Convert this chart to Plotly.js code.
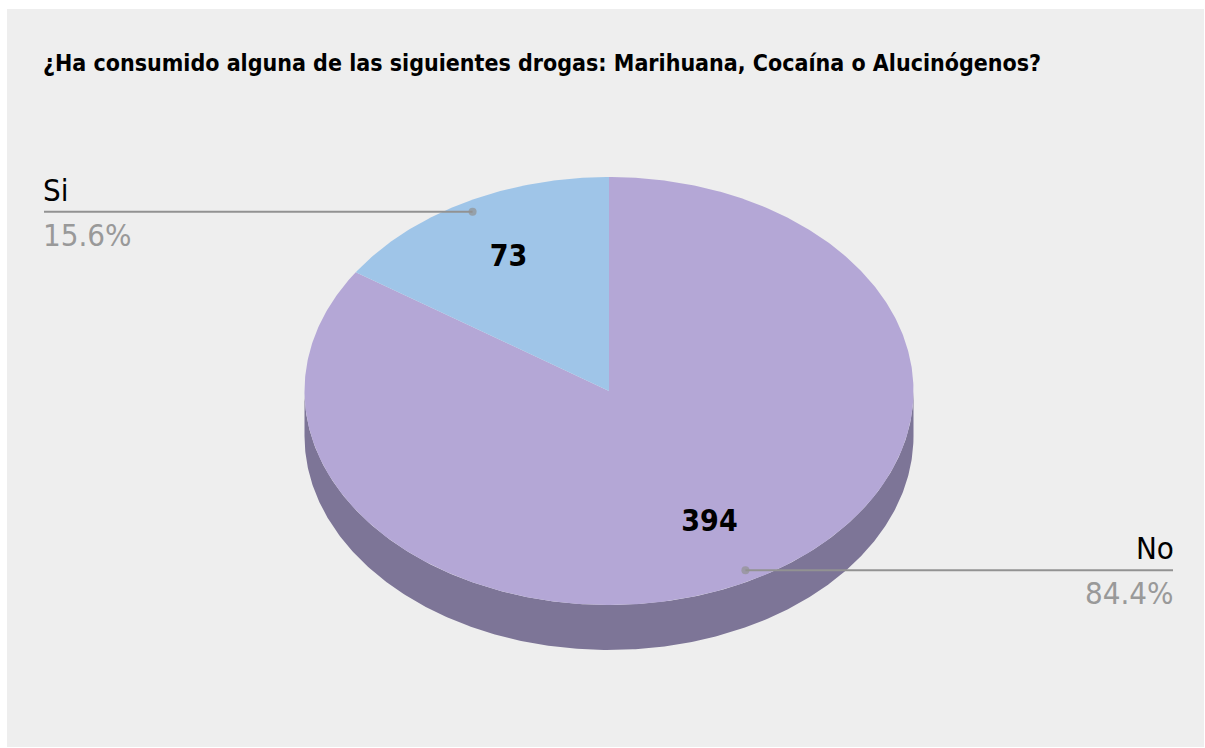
<!DOCTYPE html>
<html><head><meta charset="utf-8">
<script src="https://cdn.plot.ly/plotly-3.0.1.min.js"></script>
<style>html,body{margin:0;padding:0;background:#fff}#chart{width:1205px;height:748px}</style>
</head><body><div id="chart"></div><script>
// ---- data ----
const labels = ["No", "Si"];
const values = [394, 73];
const topColors = ["#b4a7d6", "#9fc5e8"];
const sideColors = ["#7d7597", "#6f8aa2"];
const titleText = "¿Ha consumido alguna de las siguientes drogas: Marihuana, Cocaína o Alucinógenos?";

// ---- geometry (layout constants, in pixel-like axis units) ----
const W = 1205, H = 748;
const cx = 609, cy = 391, rx = 304.5, ry = 214, depth = 45;
const leftX = 44, rightX = 1173;
const FONT = '"DejaVu Sans Condensed", "Liberation Sans Narrow", "Arial Narrow", sans-serif';

function pt(deg, f, dy) {
  const r = deg * Math.PI / 180;
  return [cx + rx * f * Math.sin(r), cy - ry * f * Math.cos(r) + (dy || 0)];
}
function arc(a0, a1, f, dy) {
  const pts = [];
  const n = Math.max(2, Math.ceil(Math.abs(a1 - a0) / 0.5));
  for (let i = 0; i <= n; i++) pts.push(pt(a0 + (a1 - a0) * i / n, f, dy));
  return pts;
}

const total = values.reduce((a, b) => a + b, 0);
let start = 0;
const slices = [];
values.forEach((v, i) => {
  const sweep = v / total * 360;
  slices.push({ i: i, a0: start, a1: start + sweep, mid: start + sweep / 2 });
  start += sweep;
});

const traces = [];
function poly(p, color) {
  return { type: 'scatter', x: p.map(q => q[0]), y: p.map(q => q[1]), mode: 'lines',
    fill: 'toself', fillcolor: color, line: { width: 0, color: color },
    hoverinfo: 'skip', showlegend: false };
}
// side walls (front half only)
slices.forEach(s => {
  const lo = Math.max(s.a0, 90), hi = Math.min(s.a1, 270);
  if (hi > lo) {
    const p = arc(lo, hi, 1, 0).concat(arc(hi, lo, 1, depth));
    traces.push(poly(p, sideColors[s.i]));
  }
});
// top faces
slices.forEach(s => {
  const p = [[cx, cy]].concat(arc(s.a0, s.a1, 1, 0));
  p.push([cx, cy]);
  traces.push(poly(p, topColors[s.i]));
});
// value labels
traces.push({
  type: 'scatter', mode: 'text',
  x: slices.map(s => pt(s.mid, 0.7)[0]), y: slices.map(s => pt(s.mid, 0.7)[1]),
  text: values.map(v => String(v)),
  textfont: { family: FONT, size: 30, color: '#000000', weight: 'bold' },
  hoverinfo: 'skip', showlegend: false
});
// leader lines
const annotations = [];
slices.forEach(s => {
  const d = pt(s.mid, 0.95);
  const onLeft = (s.mid > 180);
  const ex = onLeft ? leftX : rightX;
  traces.push({
    type: 'scatter', mode: 'lines+markers', x: [d[0], ex], y: [d[1], d[1]],
    line: { color: '#929292', width: 2 },
    marker: { size: [8, 0], color: '#929292', line: { width: 0 } },
    hoverinfo: 'skip', showlegend: false
  });
  const pct = (values[s.i] / total * 100).toFixed(1) + '%';
  annotations.push({
    xref: 'x', yref: 'y', x: ex, y: d[1], text: labels[s.i], showarrow: false,
    xanchor: onLeft ? 'left' : 'right', yanchor: 'bottom', yshift: 2, xshift: onLeft ? -3 : 3,
    font: { family: FONT, size: 31, color: '#000000' }
  });
  annotations.push({
    xref: 'x', yref: 'y', x: ex, y: d[1], text: pct, showarrow: false,
    xanchor: onLeft ? 'left' : 'right', yanchor: 'top', yshift: -3, xshift: onLeft ? -3 : 3,
    font: { family: FONT, size: 31, color: '#999999' }
  });
});

const layout = {
  width: W, height: H,
  margin: { l: 0, r: 0, t: 0, b: 0 },
  paper_bgcolor: '#ffffff', plot_bgcolor: 'rgba(0,0,0,0)',
  xaxis: { range: [0, W], visible: false, fixedrange: true },
  yaxis: { range: [H, 0], visible: false, fixedrange: true },
  showlegend: false,
  title: {
    text: '<b>' + titleText + '</b>', x: 43 / W, xanchor: 'left', xref: 'paper',
    y: 1 - 63 / H, yanchor: 'middle', yref: 'container',
    font: { family: FONT, size: 23, color: '#000000' }
  },
  shapes: [{ type: 'rect', xref: 'paper', yref: 'paper', x0: 7 / W, x1: 1204 / W,
    y0: 1 / H, y1: 1 - 9 / H, fillcolor: '#eeeeee', line: { width: 0 }, layer: 'below' }],
  annotations: annotations
};
Plotly.newPlot('chart', traces, layout, { displayModeBar: false, staticPlot: true });
</script></body></html>
